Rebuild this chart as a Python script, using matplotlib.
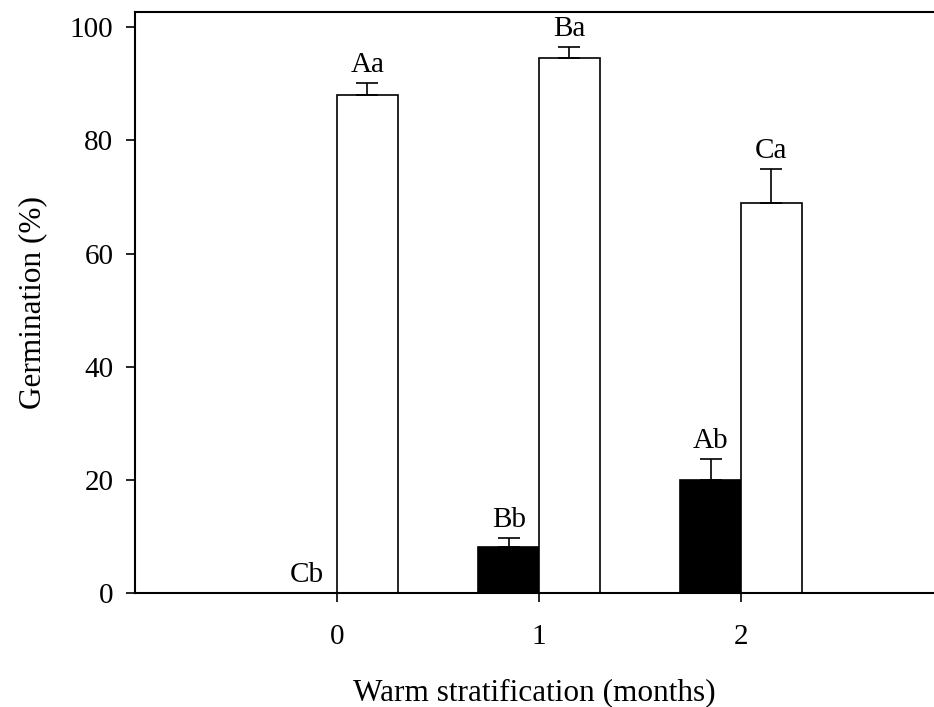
import matplotlib
matplotlib.use("Agg")
import matplotlib.pyplot as plt
import numpy as np

months = [0, 1, 2]
dark_vals = [0.0, 8.2, 20.0]
dark_err = [0.0, 1.5, 3.6]
light_vals = [88.1, 94.6, 69.0]
light_err = [2.1, 1.9, 5.9]
dark_labels = ["Cb", "Bb", "Ab"]
light_labels = ["Aa", "Ba", "Ca"]
xtick_labels = ["0", "1", "2"]

plt.rcParams['font.family'] = ['Liberation Serif', 'DejaVu Serif']

fig = plt.figure(figsize=(9.34, 7.07), dpi=100)
ax = fig.add_axes([135/934, 1 - 593/707, 1 - 135/934, (593 - 12)/707])

x = np.array(months, dtype=float)
w = 0.3
ax.bar(x - w/2, dark_vals, width=w, color='black', edgecolor='black', linewidth=1.2, zorder=2)
ax.bar(x + w/2, light_vals, width=w, color='white', edgecolor='black', linewidth=1.2, zorder=2)

for xi, v, e in zip(x - w/2, dark_vals, dark_err):
    if e > 0:
        ax.errorbar(xi, v, yerr=[[0], [e]], fmt='none', ecolor='black', elinewidth=1.2,
                    capsize=8, capthick=1.2, zorder=3)
for xi, v, e in zip(x + w/2, light_vals, light_err):
    ax.errorbar(xi, v, yerr=[[0], [e]], fmt='none', ecolor='black', elinewidth=1.2,
                capsize=8, capthick=1.2, zorder=3)

for xi, v, e, lab in zip(x - w/2, dark_vals, dark_err, dark_labels):
    ax.annotate(lab, (xi, v + e), xytext=(0, 8), textcoords='offset points',
                ha='center', va='baseline', fontsize=21)
for xi, v, e, lab in zip(x + w/2, light_vals, light_err, light_labels):
    ax.annotate(lab, (xi, v + e), xytext=(0, 8), textcoords='offset points',
                ha='center', va='baseline', fontsize=21)

ax.set_xlim(-1.0, 2.955)
ax.set_ylim(0, 102.7)
ax.set_xticks(x)
ax.set_xticklabels(xtick_labels)
ax.set_yticks([0, 20, 40, 60, 80, 100])

ax.spines['right'].set_visible(False)
for s in ['left', 'bottom', 'top']:
    ax.spines[s].set_linewidth(1.5)
ax.tick_params(axis='both', direction='out', length=6.5, width=1.2, labelsize=21)
ax.tick_params(axis='y', pad=9)
ax.tick_params(axis='x', pad=16)

ax.set_xlabel('Warm stratification (months)', fontsize=22.5, labelpad=20)
ax.set_ylabel('Germination (%)', fontsize=22.5, labelpad=16)

fig.savefig('out.png', dpi=100)
